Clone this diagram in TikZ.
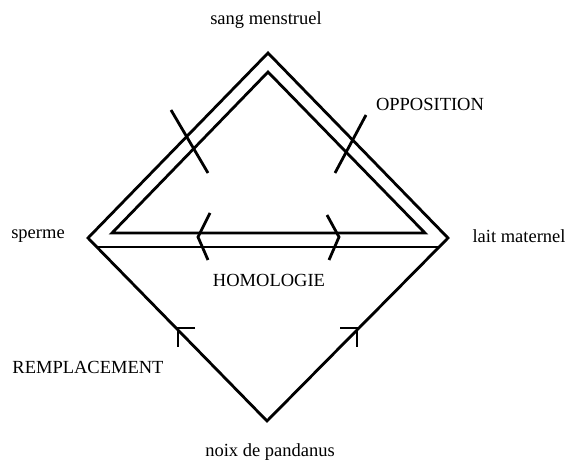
\documentclass[tikz,border=0pt]{standalone}
\usepackage{fontspec}
\setmainfont{Liberation Serif}
\usetikzlibrary{positioning}
\tikzset{
    % les traits du losange et du triangle
    relation/.style={
        draw=black,
        line width=2.8pt,
        line join=miter
    },
    % les petits traits : croix, chevrons, fleches
    marque/.style={
        draw=black,
        line width=2.8pt
    },
    % les termes et les relations
    terme/.style={
        font=\fontsize{18.5}{22}\selectfont,
        inner sep=0pt
    }
}
\begin{document}
\begin{tikzpicture}[x=1pt,y=-1pt]
    \useasboundingbox (0,0) rectangle (565,462);

    % --- 1. Le losange ---
    \coordinate (sang) at (268,53);
    \coordinate (sperme) at (88,238);
    \coordinate (lait) at (448,238);
    \coordinate (noix) at (267,421);
    \draw[relation] (sperme) -- (sang) -- (lait) -- (noix) -- cycle;

    % Triangle interieur (double trait) et base
    \draw[relation] (112,233) -- (268,72) -- (425,233) -- cycle;
    \draw[relation] (97,247) -- (439,247);

    % --- 2. Les marques ---
    % croix de l'opposition
    \draw[marque] (171,110) -- (208,173);
    \draw[marque] (366,115) -- (335,173);
    % chevrons de l'homologie
    \draw[marque] (210,213) -- (198,237) -- (208,260);
    \draw[marque] (327,215) -- (339,237) -- (329,260);
    % fleches du remplacement
    \draw[marque] (195,328) -- (178,328) -- (178,347);
    \draw[marque] (340,328) -- (357,328) -- (357,347);

    % --- 3. Les textes ---
    \node[terme] (t-sang) at (266,20) {sang menstruel};
    \node[terme] (t-sperme) at (38,236) {sperme};
    \node[terme] (t-lait) at (519,236) {lait maternel};
    \node[terme] (t-noix) at (270,452) {noix de pandanus};
    \node[terme] (t-opposition) at (430,104) {OPPOSITION};
    \node[terme] (t-homologie) at (269,280) {HOMOLOGIE};
    \node[terme] (t-remplacement) at (88,367) {REMPLACEMENT};

\end{tikzpicture}
\end{document}
